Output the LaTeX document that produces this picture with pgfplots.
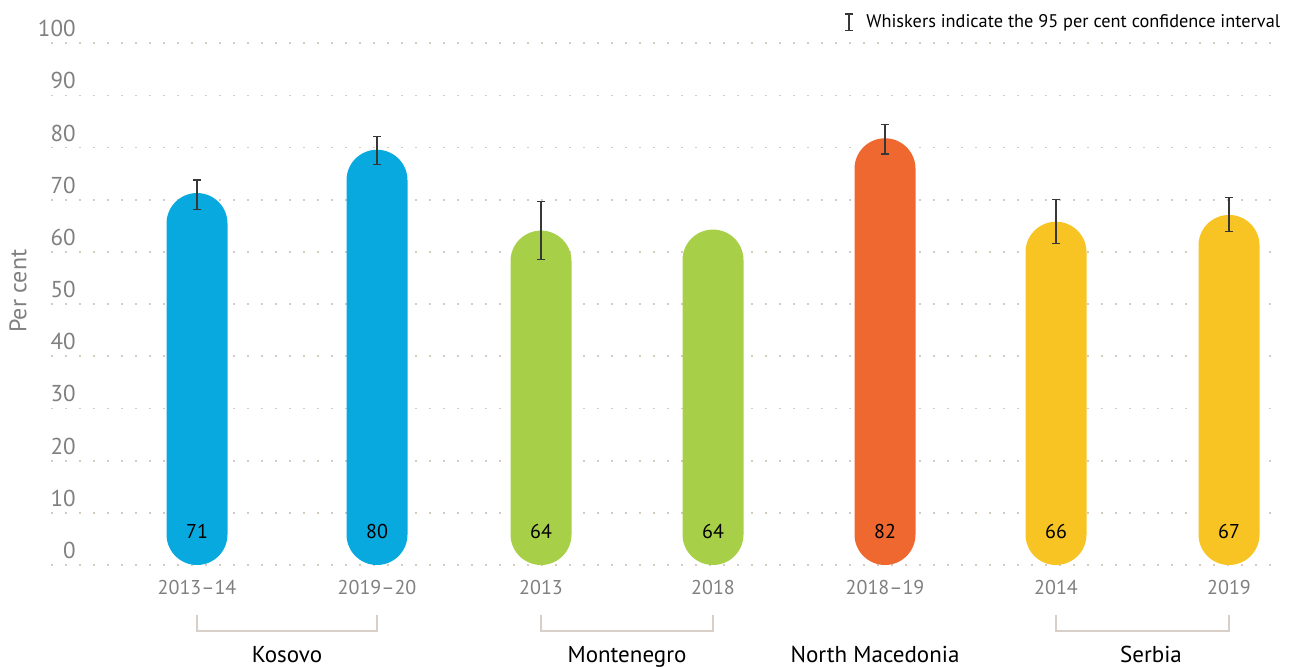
\documentclass[border=0pt]{standalone}
\usepackage{fontspec}
\setmainfont{PT Sans}
\usepackage{pgfplots}
\pgfplotsset{compat=1.18}
\definecolor{cblue}{RGB}{8,169,222}
\definecolor{cgreen}{RGB}{168,207,72}
\definecolor{corange}{RGB}{238,104,48}
\definecolor{cyellow}{RGB}{247,196,35}
\definecolor{tickgray}{RGB}{128,128,128}
\definecolor{gridc}{RGB}{212,203,193}
\definecolor{brack}{RGB}{216,208,200}
\definecolor{whisk}{RGB}{55,55,55}
\pgfplotsset{
  pill/.style={ybar, bar shift=0pt, bar width=61, draw=none, rounded corners=15.25pt,
    error bars/y dir=both, error bars/y explicit,
    error bars/error bar style={whisk, line width=0.6pt, rounded corners=0pt},
    error bars/error mark options={rotate=90, whisk, mark size=2pt, line width=0.6pt}},
}
\begin{document}
\begin{tikzpicture}
\begin{axis}[
  width=646.5pt, height=333pt, scale only axis,
  xmin=0, xmax=1293, ymin=-19.36, ymax=108.3,
  clip=false,
  axis line style={draw=none},
  major tick length=0pt,
  tick pos=left,
  xtick={197,377,541,713,885,1056,1229},
  xticklabels={2013–14,2019–20,2013,2018,2018–19,2014,2019},
  ytick={0,10,...,100},
  /pgf/number format/assume math mode=true,
  yticklabel style={font=\fontsize{11.5}{12}\selectfont, text=tickgray, anchor=east, inner sep=0pt, xshift=38pt, yshift=7.3pt},
  xticklabel style={font=\fontsize{10}{12}\selectfont, text=tickgray, anchor=center, inner sep=0pt, yshift=39.5pt},
]
% dotted gridlines
\pgfplotsinvokeforeach{0,10,...,100}{
  \draw[gridc, line width=0.85pt, dash pattern=on 0.85pt off 6.15pt] (axis cs:51,#1) -- (axis cs:1282,#1);
}
% bars
\addplot[pill, fill=cblue] coordinates {(197,71.3) += (0,2.5) -= (0,3.1) (377,79.6) += (0,2.5) -= (0,2.8)};
\addplot[pill, fill=cgreen] coordinates {(541,64.1) += (0,5.5) -= (0,5.5)};
\addplot[ybar, bar shift=0pt, bar width=61, draw=none, rounded corners=15.25pt, fill=cgreen] coordinates {(713,64.3)};
\addplot[pill, fill=corange] coordinates {(885,81.8) += (0,2.6) -= (0,3.0)};
\addplot[pill, fill=cyellow] coordinates {(1056,65.8) += (0,4.2) -= (0,4.2) (1229,67.1) += (0,3.3) -= (0,3.1)};
% value labels
\begin{scope}[every node/.style={font=\fontsize{10}{12}\selectfont, text=black, inner sep=0pt}]
\node at (axis cs:197,6.5) {71};
\node at (axis cs:377,6.5) {80};
\node at (axis cs:541,6.5) {64};
\node at (axis cs:713,6.5) {64};
\node at (axis cs:885,6.5) {82};
\node at (axis cs:1056,6.5) {66};
\node at (axis cs:1229,6.5) {67};
\end{scope}
% brackets
\begin{scope}[brack, line width=1pt]
\draw (axis cs:197,-9.58) -- (axis cs:197,-12.65) -- (axis cs:377,-12.65) -- (axis cs:377,-9.58);
\draw (axis cs:541,-9.58) -- (axis cs:541,-12.65) -- (axis cs:713,-12.65) -- (axis cs:713,-9.58);
\draw (axis cs:1056,-9.58) -- (axis cs:1056,-12.65) -- (axis cs:1229,-12.65) -- (axis cs:1229,-9.58);
\end{scope}
% country labels
\begin{scope}[every node/.style={font=\fontsize{11.5}{13}\selectfont, text=black, inner sep=0pt, anchor=base}]
\node at (axis cs:287,-18.6) {Kosovo};
\node at (axis cs:627,-18.6) {Montenegro};
\node at (axis cs:875,-18.6) {North Macedonia};
\node at (axis cs:1151,-18.6) {Serbia};
\end{scope}
% y label
\node[rotate=90, font=\fontsize{12}{14}\selectfont, text=tickgray, inner sep=0pt] at (axis cs:18,52.5) {Per cent};
% legend
\draw[whisk, line width=0.6pt] (axis cs:849,102.4) -- (axis cs:849,105.6);
\draw[whisk, line width=0.6pt] (axis cs:845,102.4) -- (axis cs:853,102.4);
\draw[whisk, line width=0.6pt] (axis cs:845,105.6) -- (axis cs:853,105.6);
\node[anchor=west, inner sep=0pt, font=\fontsize{9.15}{11}\selectfont, text=black] at (axis cs:866,103.9) {Whiskers indicate the 95 per cent confidence interval};
\end{axis}
\pgfresetboundingbox
\path (current axis.south west) rectangle (current axis.north east);
\end{tikzpicture}
\end{document}
